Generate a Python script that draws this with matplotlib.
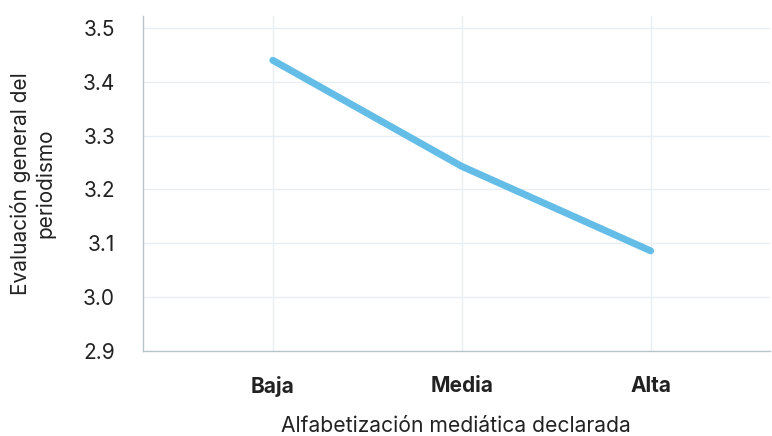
import matplotlib.pyplot as plt

categories = ["Baja", "Media", "Alta"]
values = [3.44, 3.243, 3.086]

plt.rcParams['font.family'] = ['Inter', 'DejaVu Sans']

fig = plt.figure(figsize=(7.72, 4.36), dpi=100)
ax = fig.add_axes([0.185, 0.195, 0.812, 0.768])

x = list(range(len(categories)))
ax.plot(x, values, color="#63bde6", linewidth=5, solid_capstyle="round", solid_joinstyle="round", zorder=3)

ax.set_xlim(-0.688, 2.63)
ax.set_ylim(2.9, 3.522)
ax.set_yticks([2.9, 3.0, 3.1, 3.2, 3.3, 3.4, 3.5])
ax.set_yticklabels(["2.9", "3.0", "3.1", "3.2", "3.3", "3.4", "3.5"])
ax.set_xticks(x)
ax.set_xticklabels(categories, fontweight="bold")

ax.grid(True, color="#e8eef1", linewidth=1)
ax.set_axisbelow(True)
for s in ["top", "right"]:
    ax.spines[s].set_visible(False)
for s in ["left", "bottom"]:
    ax.spines[s].set_color("#b9c5cc")
    ax.spines[s].set_linewidth(1)

ax.tick_params(axis="both", length=0, labelsize=15, colors="#222222")
ax.tick_params(axis="x", pad=18)
ax.tick_params(axis="y", pad=20)

ax.set_xlabel("Alfabetización mediática declarada", fontsize=15.2, color="#222222", labelpad=14)
ax.set_ylabel("Evaluación general del\nperiodismo", fontsize=15, color="#222222", labelpad=20)

fig.savefig("out.png", dpi=100)
